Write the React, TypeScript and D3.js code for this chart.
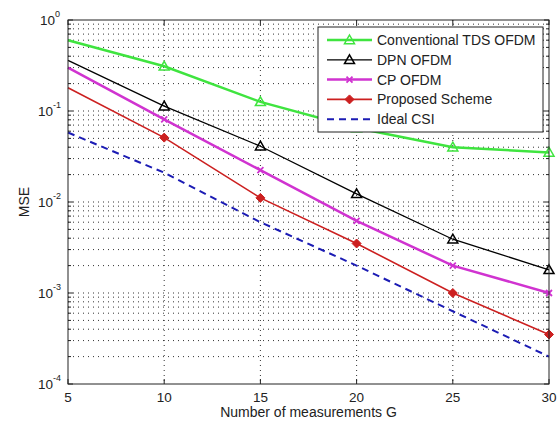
import React from "react";
import * as d3 from "d3";

const xValues = [5, 10, 15, 20, 25, 30];
const seriesNames = ["Conventional TDS OFDM", "DPN OFDM", "CP OFDM", "Proposed Scheme", "Ideal CSI"];
const tdsValues = [0.6, 0.31, 0.126, 0.065, 0.04, 0.035];
const dpnValues = [0.36, 0.113, 0.041, 0.0123, 0.0039, 0.0018];
const cpValues = [0.3, 0.081, 0.0224, 0.0062, 0.002, 0.001];
const proposedValues = [0.18, 0.051, 0.0111, 0.0035, 0.001, 0.00035];
const idealValues = [0.058, 0.021, 0.006, 0.002, 0.00063, 0.0002];
const xTicks = [5, 10, 15, 20, 25, 30];
const yDecades = [0, -1, -2, -3, -4];

const W = 560, H = 424;
const L = 68, R = 549, T = 20, B = 384;

type Style = { color: string; width: number; dash?: string; marker: string };
const styles: Style[] = [
  { color: "#3fe43f", width: 2.5, marker: "tri" },
  { color: "#000000", width: 1.3, marker: "tri" },
  { color: "#d033d0", width: 2.5, marker: "x" },
  { color: "#cc2020", width: 1.6, marker: "diamond" },
  { color: "#1c1cb4", width: 2, dash: "7,5", marker: "none" },
];
const allSeries = [tdsValues, dpnValues, cpValues, proposedValues, idealValues];

function Marker({ kind, x, y, color }: { kind: string; x: number; y: number; color: string }) {
  if (kind === "tri") {
    const s = 5;
    return (
      <path
        d={`M${x},${y - s} L${x + s},${y + s * 0.75} L${x - s},${y + s * 0.75} Z`}
        fill="none"
        stroke={color}
        strokeWidth={1.5}
      />
    );
  }
  if (kind === "x") {
    const s = 3;
    return (
      <path d={`M${x - s},${y - s} L${x + s},${y + s} M${x - s},${y + s} L${x + s},${y - s}`} stroke={color} strokeWidth={1.8} />
    );
  }
  if (kind === "diamond") {
    const s = 4.5;
    return <path d={`M${x},${y - s} L${x + s},${y} L${x},${y + s} L${x - s},${y} Z`} fill={color} stroke={color} strokeWidth={1} />;
  }
  return null;
}

export default function App() {
  const x = d3.scaleLinear().domain([5, 30]).range([L, R]);
  const y = d3.scaleLog().domain([1e-4, 1]).range([B, T]);
  const line = d3
    .line<number>()
    .x((_, i) => x(xValues[i]))
    .y((d) => y(d));

  const minorVals: number[] = [];
  for (let e = -4; e < 0; e++) {
    for (let m = 2; m <= 9; m++) minorVals.push(m * Math.pow(10, e));
  }
  const font = "'Liberation Sans', Arial, sans-serif";
  const dot = "1,4";
  const gridColor = "#333";

  return (
    <svg width={W} height={H} style={{ position: "absolute", left: 0, top: 0, background: "#fff" }} fontFamily={font}>
      <rect x={0} y={0} width={W} height={H} fill="#fff" />
      {/* grid */}
      {minorVals.map((v, i) => (
        <line key={"mg" + i} x1={L} x2={R} y1={y(v)} y2={y(v)} stroke={gridColor} strokeWidth={1} strokeDasharray={dot} />
      ))}
      {yDecades.slice(1, 4).map((e) => (
        <line key={"dg" + e} x1={L} x2={R} y1={y(Math.pow(10, e))} y2={y(Math.pow(10, e))} stroke={gridColor} strokeWidth={1} strokeDasharray={dot} />
      ))}
      {xTicks.slice(1, -1).map((t) => (
        <line key={"xg" + t} x1={x(t)} x2={x(t)} y1={T} y2={B} stroke={gridColor} strokeWidth={1} strokeDasharray={dot} />
      ))}
      {/* ticks */}
      {xTicks.map((t) => (
        <g key={"xt" + t}>
          <line x1={x(t)} x2={x(t)} y1={B} y2={B - 5} stroke="#222" />
          <line x1={x(t)} x2={x(t)} y1={T} y2={T + 5} stroke="#222" />
          <text x={x(t)} y={B + 18} textAnchor="middle" fontSize={13.5} fill="#222">
            {t}
          </text>
        </g>
      ))}
      {minorVals.map((v, i) => (
        <g key={"mt" + i}>
          <line x1={L} x2={L + 3} y1={y(v)} y2={y(v)} stroke="#222" />
          <line x1={R} x2={R - 3} y1={y(v)} y2={y(v)} stroke="#222" />
        </g>
      ))}
      {yDecades.map((e) => (
        <g key={"yt" + e}>
          <line x1={L} x2={L + 5} y1={y(Math.pow(10, e))} y2={y(Math.pow(10, e))} stroke="#222" />
          <line x1={R} x2={R - 5} y1={y(Math.pow(10, e))} y2={y(Math.pow(10, e))} stroke="#222" />
          <text x={e === 0 ? 55 : 53} y={y(Math.pow(10, e)) + 5} textAnchor="end" fontSize={13.5} fill="#222">
            10
          </text>
          <text x={e === 0 ? 55 : 53} y={y(Math.pow(10, e)) - 3} textAnchor="start" fontSize={9} fill="#222">
            {e === 0 ? "0" : String(e)}
          </text>
        </g>
      ))}
      {/* series */}
      {allSeries.map((vals, si) => (
        <g key={"s" + si}>
          <path d={line(vals) || ""} fill="none" stroke={styles[si].color} strokeWidth={styles[si].width} strokeDasharray={styles[si].dash} />
          {vals.map((v, i) =>
            i === 0 ? null : <Marker key={i} kind={styles[si].marker} x={x(xValues[i])} y={y(v)} color={styles[si].color} />
          )}
        </g>
      ))}
      {/* frame */}
      <rect x={L} y={T} width={R - L} height={B - T} fill="none" stroke="#222" strokeWidth={1} />
      {/* legend */}
      <g>
        <rect x={318} y={27} width={225} height={105} fill="#fff" stroke="#222" strokeWidth={1} />
        {seriesNames.map((n, i) => {
          const ly = 40 + i * 19.8;
          return (
            <g key={"lg" + i}>
              <line x1={327} x2={372} y1={ly} y2={ly} stroke={styles[i].color} strokeWidth={styles[i].width} strokeDasharray={styles[i].dash} />
              <Marker kind={styles[i].marker} x={349.5} y={ly} color={styles[i].color} />
              <text x={377} y={ly + 5} fontSize={14} fill="#222">
                {n}
              </text>
            </g>
          );
        })}
      </g>
      {/* axis labels */}
      <text x={(L + R) / 2} y={417} textAnchor="middle" fontSize={14} fill="#222">
        Number of measurements G
      </text>
      <text transform={`translate(29,${(T + B) / 2}) rotate(-90)`} textAnchor="middle" fontSize={14} fill="#222">
        MSE
      </text>
    </svg>
  );
}
